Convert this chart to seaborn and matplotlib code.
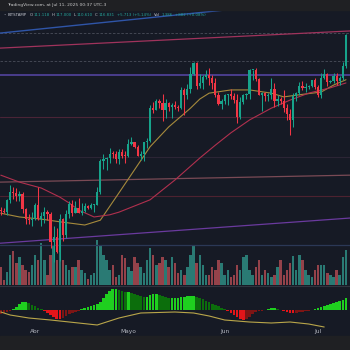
import numpy as np
import pandas as pd
import matplotlib
matplotlib.use("Agg")
import matplotlib.pyplot as plt
import seaborn as sns
from matplotlib.patches import Rectangle

sns.set_theme(style="dark")
plt.rcParams['font.family'] = ['DejaVu Sans']

# ---- daily BTC/USD candles, Bitstamp, 20 Mar - 10 Jul 2025 (USD thousands) ----
dates = pd.date_range("2025-03-20", "2025-07-10", freq="D")
opens = [86.8, 84.2, 84.0, 83.8, 86.1, 87.5, 87.4, 86.9, 87.2, 84.3, 82.6, 82.3,
         82.5, 85.2, 82.5, 83.1, 83.8, 83.5, 78.2, 79.2, 76.3, 82.6, 79.6, 83.4,
         85.3, 83.7, 84.6, 83.6, 84.0, 84.9, 84.5, 85.1, 85.2, 87.5, 93.4, 93.7,
         93.9, 94.7, 94.6, 93.7, 95.0, 94.3,
         94.2, 96.5, 96.9, 95.9, 94.3, 94.7, 96.8, 97.0, 103.2, 102.9, 104.6, 104.1,
         102.8, 104.1, 103.5, 103.7, 103.5, 103.2, 106.5, 105.6, 106.8, 109.6, 111.7,
         107.3, 107.8, 109.0, 109.4, 108.9, 107.8, 105.6, 103.9,
         104.6, 105.7, 105.8, 105.4, 104.7, 101.5, 104.3, 105.6, 105.8, 110.3, 110.3,
         108.6, 105.7, 106.1, 105.4, 105.6, 106.8, 104.6, 104.9, 104.6, 103.3, 102.2,
         100.9, 105.4, 106.0, 107.3, 106.9, 107.1, 107.3, 108.4,
         107.1, 105.7, 108.8, 109.6, 108.0, 108.2, 109.2, 108.2, 108.9, 111.118]
highs = [87.4, 84.8, 84.5, 86.2, 88.8, 88.5, 88.3, 87.8, 87.5, 84.6, 83.5, 83.9,
         85.5, 88.5, 83.9, 84.7, 84.2, 83.8, 81.2, 80.8, 83.5, 82.7, 84.2, 85.9,
         86.1, 85.8, 86.5, 85.5, 85.5, 85.1, 85.6, 85.3, 88.5, 93.8, 94.7, 94.0,
         95.8, 95.3, 95.2, 95.6, 95.5, 95.2,
         97.4, 97.9, 96.9, 96.3, 95.2, 96.9, 97.7, 103.8, 104.3, 104.9, 104.9, 105.8,
         104.9, 104.3, 104.2, 104.5, 103.7, 107.1, 107.0, 107.7, 110.8, 111.9, 111.8,
         109.5, 109.3, 110.4, 110.7, 109.3, 108.9, 106.3, 104.9,
         105.9, 105.9, 106.8, 106.0, 105.9, 105.3, 105.9, 106.0, 110.5, 110.4, 110.6,
         108.9, 106.2, 106.2, 106.1, 108.9, 107.8, 105.6, 105.2, 106.5, 104.0, 103.1,
         106.0, 106.3, 108.1, 108.2, 107.8, 107.5, 108.5, 108.8,
         107.5, 109.7, 110.5, 109.8, 108.4, 109.7, 109.7, 109.2, 111.9, 117.0]
lows = [83.7, 83.2, 83.6, 83.3, 85.6, 86.3, 85.9, 85.9, 83.6, 81.6, 81.6, 81.3,
        82.4, 82.3, 81.2, 81.7, 82.4, 77.2, 74.5, 76.2, 74.6, 78.5, 78.9, 82.8,
        83.1, 83.7, 83.6, 83.2, 83.9, 84.3, 84.4, 83.9, 85.1, 87.1, 91.9, 91.7,
        92.9, 93.9, 93.0, 92.8, 93.9, 92.9,
        94.1, 96.3, 95.7, 94.2, 93.5, 93.4, 95.8, 96.9, 102.3, 102.8, 103.3, 100.8,
        101.4, 102.6, 101.4, 103.1, 102.6, 103.1, 102.0, 104.9, 106.1, 109.3, 106.8,
        106.9, 106.7, 108.7, 107.6, 106.8, 105.3, 103.7, 103.1,
        103.9, 103.7, 105.0, 104.2, 100.4, 101.1, 103.9, 104.9, 105.0, 108.4, 108.2,
        105.6, 102.7, 104.6, 104.5, 104.9, 103.4, 103.6, 103.9, 102.4, 100.9, 98.2,
        99.6, 104.6, 105.6, 106.6, 106.2, 106.8, 107.2, 106.8,
        105.2, 105.1, 108.6, 107.3, 107.8, 107.8, 107.5, 107.5, 108.4, 110.61]
closes = [84.2, 84.0, 83.8, 86.1, 87.5, 87.4, 86.9, 87.2, 84.3, 82.6, 82.3, 82.5,
          85.2, 82.5, 83.1, 83.8, 83.5, 78.2, 79.2, 76.3, 82.6, 79.6, 83.4, 85.3,
          83.7, 84.6, 83.6, 84.0, 84.9, 84.5, 85.1, 85.2, 87.5, 93.4, 93.7, 93.9,
          94.7, 94.6, 93.7, 95.0, 94.3, 94.2,
          96.5, 96.9, 95.9, 94.3, 94.7, 96.8, 97.0, 103.2, 102.9, 104.6, 104.1, 102.8,
          104.1, 103.5, 103.7, 103.5, 103.2, 106.5, 105.6, 106.8, 109.6, 111.7, 107.3,
          107.8, 109.0, 109.4, 108.9, 107.8, 105.6, 103.9, 104.6,
          105.7, 105.8, 105.4, 104.7, 101.5, 104.3, 105.6, 105.8, 110.3, 110.3, 108.6,
          105.7, 106.1, 105.4, 105.6, 106.8, 104.6, 104.9, 104.6, 103.3, 102.2, 100.9,
          105.4, 106.0, 107.3, 106.9, 107.1, 107.3, 108.4, 107.1,
          105.7, 108.8, 109.6, 108.0, 108.2, 109.2, 108.2, 108.9, 111.1, 116.831]
volumes = [1800, 1800, 500, 1300, 3000, 3400, 2200, 2800, 2000, 1500, 1300, 2000,
           3000, 2500, 4200, 2500, 1000, 3000, 4000, 2500, 3700, 2500, 2000, 1500,
           1800, 1800, 2500, 1500, 1200, 600, 1000, 1200, 4500, 4000, 3000, 2500,
           1500, 2000, 800, 1000, 3000, 2700, 1800, 1400, 2800, 2200, 1800, 1200,
           2500, 3700, 3000, 2000, 2200, 2800, 2500, 1800, 2800, 2200, 1200, 1500,
           1000, 1800, 3000, 3900, 2200, 3000, 2000, 1000, 1000, 1800, 1500, 2500,
           2200, 1000, 1500, 800, 1000, 2000, 1500, 2800, 3000, 1500, 1000, 1800,
           2500, 1000, 1500, 1200, 800, 1000, 1800, 2500, 1000, 1500, 2200, 2900,
           1500, 3000, 2500, 1500, 1000, 800, 1500, 2000, 2000, 2000, 1200, 1000,
           800, 1500, 1000, 2800, 3500]

# moving averages read at selected sessions (day index, USD thousands)
ma_fast_days = [1, 7, 14, 20, 28, 33, 39, 49, 55, 62, 65, 68, 75, 81, 88, 92, 97, 104, 108, 112]
ma_fast_vals = [83.6, 82.9, 82.5, 82.0, 81.4, 82.3, 87.4, 96.0, 99.7, 103.2, 104.9, 106.0,
                106.6, 106.6, 106.0, 105.3, 105.7, 106.2, 107.5, 108.5]
ma_slow_days = [1, 7, 14, 20, 23, 26, 31, 36, 39, 49, 57, 65, 70, 75, 81, 88, 94, 100, 107, 112]
ma_slow_vals = [90.7, 89.4, 88.3, 86.6, 85.5, 84.2, 82.9, 83.3, 83.8, 86.1, 89.8, 93.9,
                96.3, 98.6, 101.0, 103.2, 104.7, 106.0, 107.0, 107.9]

# oscillator histogram (USD) and its line
osc_hist = [-500, -400, -300, -200, -100,
            100, 300, 600, 800, 800, 700, 500, 400, 200, 100,
            -100, -300, -500, -700, -900, -900, -800, -600, -400, -300, -200, -100,
            100, 200, 300, 400, 500, 600, 800, 1200, 1600, 1900,
            2100, 2100, 2000, 1900, 1800, 1800, 1700, 1600, 1500, 1400, 1300, 1300,
            1500, 1600, 1600, 1500, 1400, 1300, 1200, 1200,
            1200, 1250, 1300, 1350, 1400, 1400, 1450,
            1300, 1200, 1100, 900, 800, 600, 500, 400, 200, 100,
            -100, -300, -500, -700, -900, -1000, -900, -700, -400, -200, -100,
            -50, 30, 100, 200, 200, 150, 50, -100, -200, -300, -300, -250, -200, -150,
            -100, -50, 30,
            100, 200, 300, 400, 500, 600, 700, 800, 900, 1000, 1200]
osc_line_days = [1, 4, 10, 17, 23, 32, 39, 46, 57, 63, 68, 73, 81, 88, 94, 100, 105]
osc_line_vals = [-200, -500, -800, -1000, -1200, -1500, -800, -300, -200, -300, -600,
                 -1000, -1200, -1300, -1200, -1400, -1700]

# drawn levels (USD thousands) and trend lines (day, price) pairs
flat_levels = [(117.2, "#4a4e5a", (0, (3, 2)), 0.6),
               (112.0, "#4a4e5a", (0, (3, 2)), 0.6),
               (109.4, "#4a3d8c", "-", 1.4),
               (101.55, "#4a2437", "-", 0.8),
               (94.1, "#2b2535", "-", 0.8),
               (86.8, "#4d2230", "-", 0.8),
               (77.7, "#2b3856", "-", 0.9)]
trend_lines = [((0.74, 117.2), (113.3, 123.9), "#2f55a8", 1.0),
               ((0.74, 114.4), (113.3, 117.6), "#a0335c", 0.9),
               ((0.74, 89.4), (113.3, 90.7), "#7a4a55", 0.9),
               ((0.74, 78.0), (113.3, 82.7), "#6a3a9e", 0.9)]

month_ticks = [12, 42, 73, 103]
month_labels = ["Abr", "Mayo", "Jun", "Jul"]

BG = "#161a25"
STRIP = "#1f2023"
UP, DOWN = "#17a38b", "#f23645"

opens, highs, lows, closes = map(np.array, (opens, highs, lows, closes))
x = np.arange(len(dates))
up = closes >= opens
candle_colors = np.where(up, UP, DOWN)

fig = plt.figure(figsize=(3.5, 3.5), dpi=100, facecolor=BG)
FIG_PX = fig.dpi * fig.get_figwidth()


def frame(top, bottom):
    return [0, 1 - bottom / FIG_PX, 1, (bottom - top) / FIG_PX]


ax_vol = fig.add_axes(frame(238, 285), zorder=1)
ax = fig.add_axes(frame(10, 285), zorder=2)
ax_osc = fig.add_axes(frame(286, 326), zorder=1)
xlim = (0.74, 113.3)
for a in (ax_vol, ax, ax_osc):
    a.set_facecolor("none")
    a.set_xlim(*xlim)
    a.set_yticks([])
    a.grid(False)
    for s in a.spines.values():
        s.set_visible(False)
ax.set_xticks([])
ax_vol.set_xticks([])

# volume
vol_colors = np.where(up, "#2a7a74", "#94424a")
ax_vol.bar(x, volumes, width=0.8, color=vol_colors, linewidth=0)
ax_vol.set_ylim(0, 4700)

# price panel
ax.set_ylim(70.21, 121.51)
for lvl, col, ls, lw in flat_levels:
    ax.axhline(lvl, color=col, ls=ls, lw=lw, zorder=1)
for (x0, y0), (x1, y1), col, lw in trend_lines:
    ax.plot([x0, x1], [y0, y1], color=col, lw=lw, zorder=1)

sns.lineplot(x=ma_fast_days, y=ma_fast_vals, ax=ax, color="#a68a3c", lw=0.8, zorder=2)
sns.lineplot(x=ma_slow_days, y=ma_slow_vals, ax=ax, color="#b0304e", lw=0.8, zorder=2)

ax.vlines(x, lows, highs, color=candle_colors, lw=0.75, zorder=3)
body_low = np.minimum(opens, closes)
body_h = np.maximum(np.abs(closes - opens), 0.18)
ax.bar(x, body_h, bottom=body_low, width=0.72, color=candle_colors, linewidth=0, zorder=4)
ax.set_xlabel("")
ax.set_ylabel("")

# oscillator panel
hist = np.array(osc_hist, dtype=float)
prev = np.concatenate([[hist[0]], hist[:-1]])
hist_colors = np.where(hist >= 0,
                       np.where(hist >= prev, "#1fcf1f", "#0c6e0c"),
                       np.where(hist <= prev, "#e3151a", "#7d1515"))
ax_osc.bar(x, hist, width=0.85, color=hist_colors, linewidth=0)
sns.lineplot(x=osc_line_days, y=osc_line_vals, ax=ax_osc, color="#b9a64a", lw=0.8)
ax_osc.set_ylim(-1600, 2400)
ax_osc.spines["top"].set_visible(True)
ax_osc.spines["top"].set_color("#30343f")
ax_osc.spines["top"].set_linewidth(0.8)
ax_osc.set_xticks(month_ticks)
ax_osc.set_xticklabels(month_labels)
ax_osc.tick_params(axis="x", length=0, pad=2.2, labelsize=4.2, labelcolor="#b2b5be")
ax_osc.set_xlabel("")
ax_osc.set_ylabel("")
for line in ax_osc.lines:
    line.set_clip_on(False)

# header and footer strips
fig.add_artist(Rectangle((0, 1 - 10 / FIG_PX), 1, 10 / FIG_PX, transform=fig.transFigure,
                         color=STRIP, zorder=10))
fig.add_artist(Rectangle((0, 0), 1, 14 / FIG_PX, transform=fig.transFigure,
                         color=STRIP, zorder=10))

fig.text(7 / FIG_PX, 1 - 5 / FIG_PX, "TradingView.com, at Jul 11, 2025 00:37 UTC-3",
         color="#c9c9c9", fontsize=3.2, va="center", ha="left", zorder=11)

# symbol legend, laid out left to right from measured text extents
GREY, VAL = "#c3c6ce", "#26a69a"
chg = closes[-1] - opens[-1]
segments = [("•", "#8a8e99", 2.0), ("BITSTAMP", GREY, 3.0),
            ("O", GREY, 0.8), (f"{opens[-1]:.3f}", VAL, 2.2),
            ("H", GREY, 0.8), (f"{highs[-1]:.3f}", VAL, 2.2),
            ("L", GREY, 0.8), (f"{lows[-1]:.3f}", VAL, 2.2),
            ("C", GREY, 0.8), (f"{closes[-1]:.3f}", VAL, 2.2),
            (f"+{chg:.3f} (+{chg / opens[-1] * 100:.2f}%)", VAL, 3.0),
            ("Vol", GREY, 1.2), ("1.386", VAL, 2.2), ("+882 (+0.08%)", VAL, 0)]
renderer = fig.canvas.get_renderer()
xp = 3.0
for s, col, gap in segments:
    t = fig.text(xp / FIG_PX, 1 - 15.5 / FIG_PX, s, color=col, fontsize=2.75,
                 va="center", ha="left", zorder=11)
    xp = t.get_window_extent(renderer).x1 + gap

fig.savefig("out.png", dpi=100, facecolor=BG)
